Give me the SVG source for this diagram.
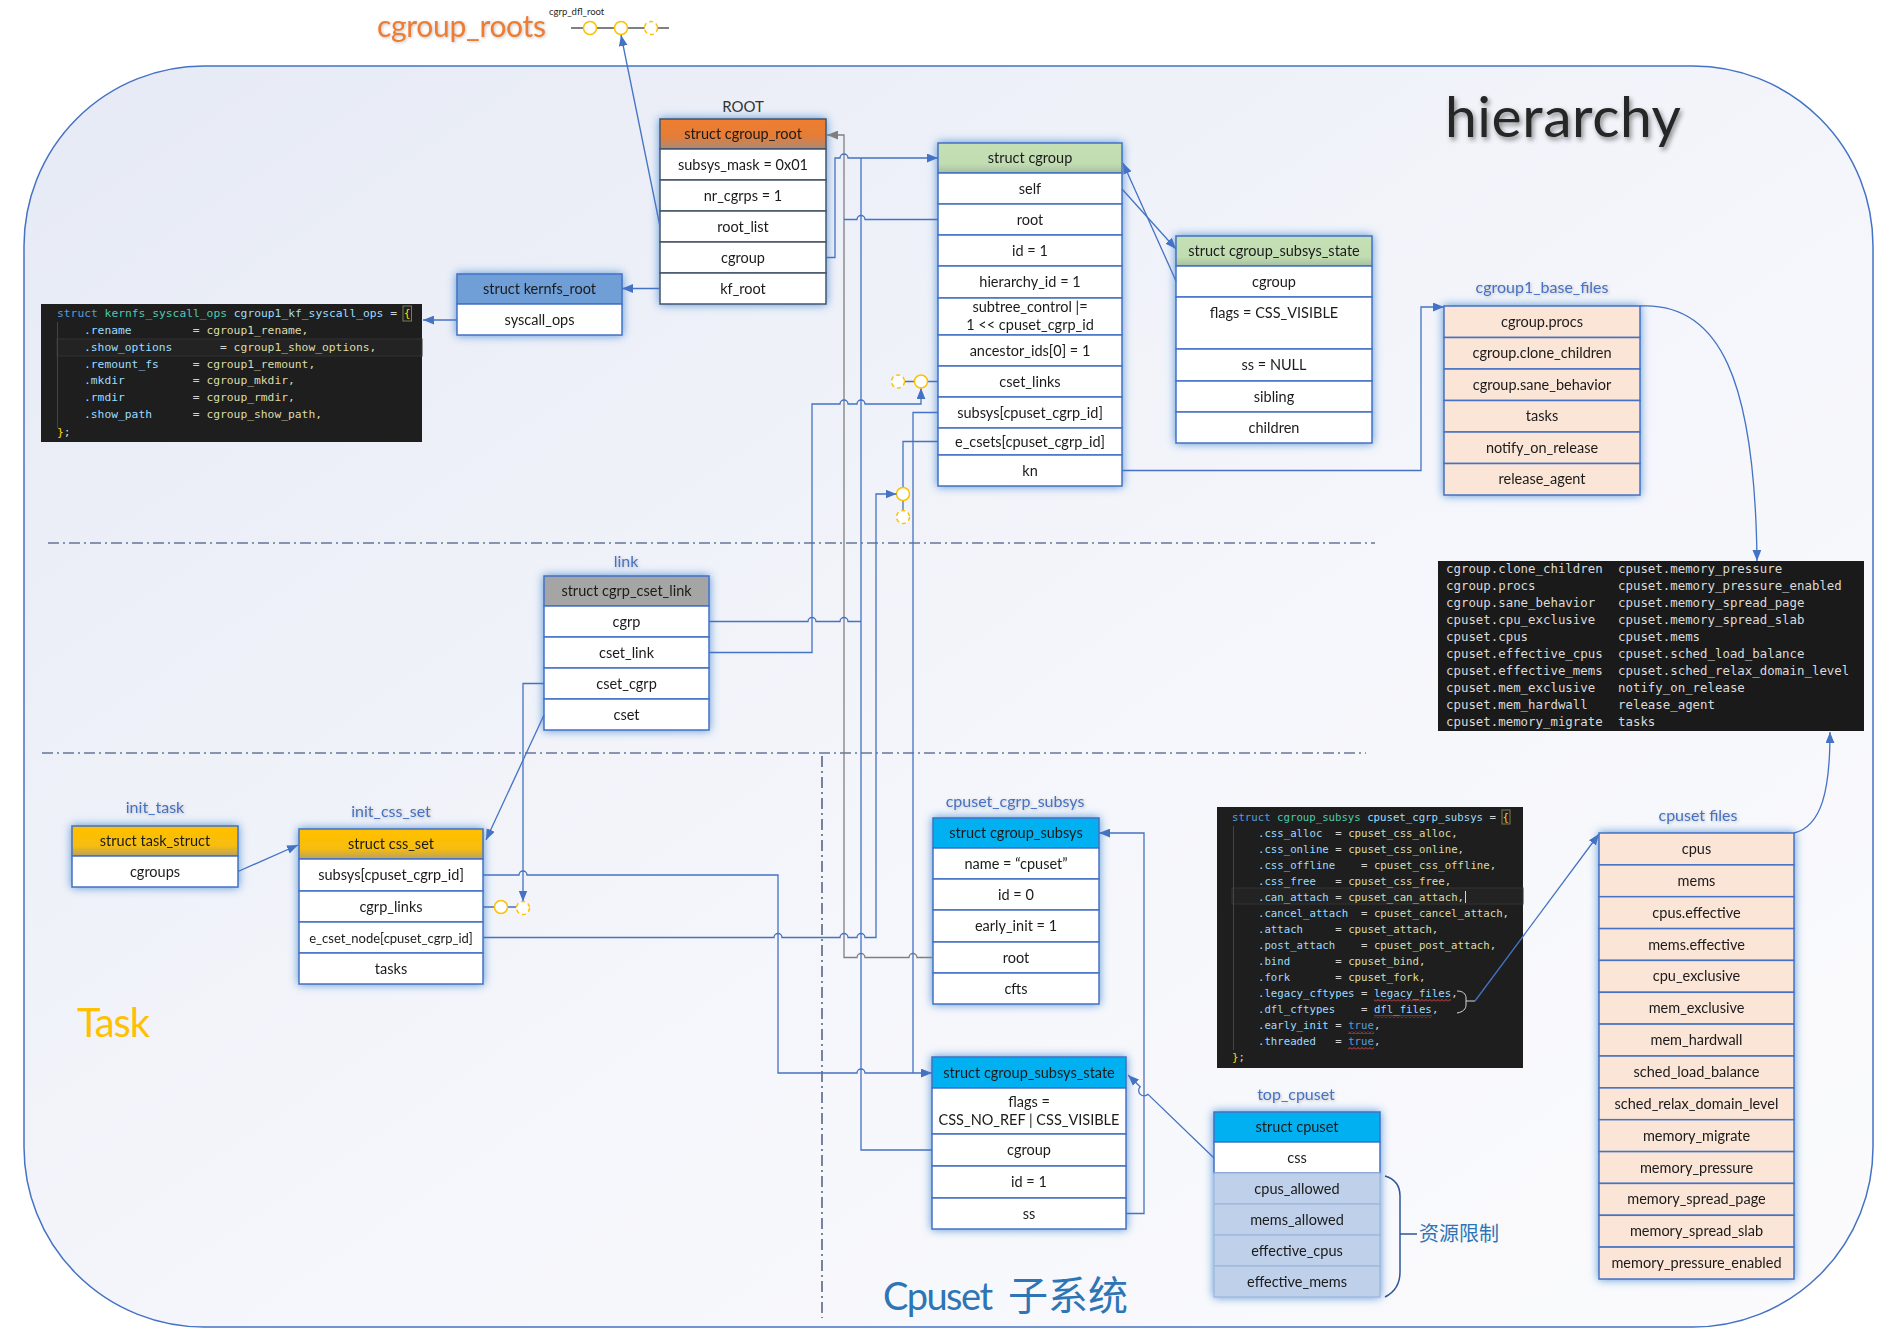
<svg xmlns="http://www.w3.org/2000/svg" width="1896" height="1340" viewBox="0 0 1896 1340">
<style>
.bx{stroke:#4472c4;stroke-width:1.5}
.rw{fill:#fff}
.pc{fill:#fbe5d6}
.lbr{fill:#bfd0ea;stroke:#9db6dc;stroke-width:1.2}
.t{font-family:Lato,"Noto Sans",sans-serif;font-size:14.5px;fill:#1a1a1a;text-anchor:middle}
.l{font-family:Lato,"Noto Sans",sans-serif;font-size:16px;fill:#4472c4;text-anchor:middle}
.c{fill:none;stroke:#4472c4;stroke-width:1.3}
.cg{fill:none;stroke:#7f7f7f;stroke-width:1.3}
.ring{fill:#fff;stroke:#ffc000;stroke-width:1.5}
.dsh{stroke-dasharray:4 3}
.m{font-family:"DejaVu Sans Mono","Liberation Mono",monospace}
.kw{fill:#569cd6}.ty{fill:#4ec9b0}.vr{fill:#9cdcfe}.op{fill:#d4d4d4}.fn{fill:#dcdcaa}.br{fill:#ffd700}
.dd{fill:none;stroke:#203864;stroke-width:1.2;stroke-dasharray:11 4 2 4}
</style>
<defs>
<linearGradient id="bg" x1="0" y1="0" x2="1" y2="1"><stop offset="0" stop-color="#e6eaf5"/><stop offset="0.55" stop-color="#f5f6fb"/><stop offset="1" stop-color="#fbfbfd"/></linearGradient>
<linearGradient id="gO" x1="0" y1="0" x2="0" y2="1"><stop offset="0" stop-color="#ef7e2f"/><stop offset="0.6" stop-color="#e47d38"/><stop offset="1" stop-color="#a98a7a"/></linearGradient>
<linearGradient id="gG" x1="0" y1="0" x2="0" y2="1"><stop offset="0" stop-color="#c5e0b4"/><stop offset="0.7" stop-color="#c1dcb1"/><stop offset="1" stop-color="#a6bfa1"/></linearGradient>
<linearGradient id="gY" x1="0" y1="0" x2="0" y2="1"><stop offset="0" stop-color="#ffc000"/><stop offset="0.65" stop-color="#f8bd0a"/><stop offset="1" stop-color="#b9a163"/></linearGradient>
<pattern id="sq" width="4" height="3" patternUnits="userSpaceOnUse"><path d="M0,2.5 L2,0.5 L4,2.5" fill="none" stroke="#f14c4c" stroke-width="0.9"/></pattern>
<filter id="glow" x="-20%" y="-20%" width="140%" height="140%">
<feGaussianBlur in="SourceAlpha" stdDeviation="5" result="b"/>
<feFlood flood-color="#4f8fd6" flood-opacity="0.95"/>
<feComposite in2="b" operator="in" result="g"/>
<feMerge><feMergeNode in="g"/><feMergeNode in="SourceGraphic"/></feMerge>
</filter>
<filter id="ts" x="-20%" y="-40%" width="140%" height="180%"><feDropShadow dx="1" dy="1" stdDeviation="1.5" flood-color="#777" flood-opacity="0.45"/></filter>
<filter id="big" x="-10%" y="-30%" width="120%" height="160%"><feDropShadow dx="2" dy="3" stdDeviation="2.5" flood-color="#000" flood-opacity="0.45"/></filter>
<marker id="ab" viewBox="0 0 10 8" refX="10" refY="4" markerWidth="11" markerHeight="9" markerUnits="userSpaceOnUse" orient="auto"><path d="M0,0L10,4L0,8z" fill="#4472c4"/></marker>
<marker id="ag" viewBox="0 0 10 8" refX="10" refY="4" markerWidth="11" markerHeight="9" markerUnits="userSpaceOnUse" orient="auto"><path d="M0,0L10,4L0,8z" fill="#7f7f7f"/></marker>
</defs>

<rect width="1896" height="1340" fill="#fff"/>
<rect x="24" y="66" width="1849" height="1261" rx="180" fill="url(#bg)" stroke="#4472c4" stroke-width="1.5"/>

<!-- titles -->
<g id="titles">
<text x="377" y="37" font-family="Lato,'Noto Sans',sans-serif" font-size="30" fill="#ed7d31" textLength="169" filter="url(#ts)">cgroup_roots</text>
<text x="549" y="15" font-family="Lato,'Noto Sans',sans-serif" font-size="9.5" fill="#262626">cgrp_dfl_root</text>
<text x="1445" y="137" font-family="Lato,'Noto Sans',sans-serif" font-size="57" fill="#262626" textLength="236" filter="url(#big)">hierarchy</text>
<text x="77" y="1037" font-family="Lato,'Noto Sans',sans-serif" font-size="40" fill="#ffc000" textLength="73">Task</text>
<text font-family="Lato,'Noto Sans CJK SC',sans-serif" font-size="38" fill="#2e75b6"><tspan x="883" y="1310" textLength="110">Cpuset</tspan><tspan x="1008" y="1310" font-size="40" font-family="'Noto Sans CJK SC',sans-serif">子系统</tspan></text>
<text x="743" y="112" text-anchor="middle" font-family="Lato,'Noto Sans',sans-serif" font-size="15" fill="#333">ROOT</text>
</g>

<!-- section lines -->
<g id="sections">
<path class="dd" d="M48,543 H1375"/>
<path class="dd" d="M42,753 H1366"/>
<path class="dd" d="M822,756 V1318"/>
</g>

<!-- cgroup_roots list -->
<g id="cgroup_roots_list">
<path d="M571,28 H669" stroke="#808080" stroke-width="1.8"/>
<circle class="ring" cx="590" cy="28" r="6.5"/>
<circle class="ring" cx="621" cy="28" r="6.5"/>
<circle class="ring dsh" cx="651" cy="28" r="6.5"/>
</g>

<!-- ROOT cgroup_root -->
<g id="cgroup_root" filter="url(#glow)">
<rect x="660" y="119" width="166" height="30" fill="url(#gO)" stroke="#44546a" stroke-width="1.5"/>
<rect x="660" y="149" width="166" height="31" class="rw" stroke="#44546a" stroke-width="1.5"/>
<rect x="660" y="180" width="166" height="31" class="rw" stroke="#44546a" stroke-width="1.5"/>
<rect x="660" y="211" width="166" height="31" class="rw" stroke="#44546a" stroke-width="1.5"/>
<rect x="660" y="242" width="166" height="31" class="rw" stroke="#44546a" stroke-width="1.5"/>
<rect x="660" y="273" width="166" height="31" class="rw" stroke="#44546a" stroke-width="1.5"/>
<text class="t" x="743" y="139">struct cgroup_root</text>
<text class="t" x="743" y="169.5">subsys_mask = 0x01</text>
<text class="t" x="743" y="200.5">nr_cgrps = 1</text>
<text class="t" x="743" y="231.5">root_list</text>
<text class="t" x="743" y="262.5">cgroup</text>
<text class="t" x="743" y="293.5">kf_root</text>
</g>

<!-- kernfs_root -->
<g id="kernfs_root" filter="url(#glow)">
<rect x="457" y="274" width="165" height="30" fill="#6f9ed6" class="bx"/>
<rect x="457" y="304" width="165" height="31" class="rw bx"/>
<text class="t" x="539.5" y="294">struct kernfs_root</text>
<text class="t" x="539.5" y="324.5">syscall_ops</text>
</g>

<!-- code box kernfs_syscall_ops -->
<g id="kernfs_syscall_ops" class="m" font-size="11.3">
<rect x="41" y="304" width="381" height="138" fill="#1e1e1e"/>
<rect x="57" y="339" width="365" height="17" fill="#232323" stroke="#333" stroke-width="1"/>
<path d="M57.5,322 V428" stroke="#444" stroke-width="1"/>
<rect x="403" y="306" width="8.5" height="15" fill="none" stroke="#7d7a52" stroke-width="1"/>
<text y="317"><tspan x="57" class="kw">struct</tspan><tspan x="104.6" class="ty">kernfs_syscall_ops</tspan><tspan x="233.8" class="vr">cgroup1_kf_syscall_ops</tspan><tspan x="390.2" class="op">=</tspan><tspan x="403.8" class="br">{</tspan></text>
<text y="334"><tspan x="84" class="vr">.rename</tspan><tspan x="192.8" class="op">=</tspan><tspan x="206.4" class="fn">cgroup1_rename,</tspan></text>
<text y="351"><tspan x="84" class="vr">.show_options</tspan><tspan x="220" class="op">=</tspan><tspan x="233.6" class="fn">cgroup1_show_options,</tspan></text>
<text y="368"><tspan x="84" class="vr">.remount_fs</tspan><tspan x="192.8" class="op">=</tspan><tspan x="206.4" class="fn">cgroup1_remount,</tspan></text>
<text y="384"><tspan x="84" class="vr">.mkdir</tspan><tspan x="192.8" class="op">=</tspan><tspan x="206.4" class="fn">cgroup_mkdir,</tspan></text>
<text y="401"><tspan x="84" class="vr">.rmdir</tspan><tspan x="192.8" class="op">=</tspan><tspan x="206.4" class="fn">cgroup_rmdir,</tspan></text>
<text y="418"><tspan x="84" class="vr">.show_path</tspan><tspan x="192.8" class="op">=</tspan><tspan x="206.4" class="fn">cgroup_show_path,</tspan></text>
<text y="436"><tspan x="57" class="br">}</tspan><tspan x="63.8" class="op">;</tspan></text>
</g>

<!-- struct cgroup -->
<g id="cgroup" filter="url(#glow)">
<rect x="938" y="143" width="184" height="30" fill="url(#gG)" class="bx"/>
<rect x="938" y="173" width="184" height="31" class="rw bx"/>
<rect x="938" y="204" width="184" height="31" class="rw bx"/>
<rect x="938" y="235" width="184" height="31" class="rw bx"/>
<rect x="938" y="266" width="184" height="32" class="rw bx"/>
<rect x="938" y="298" width="184" height="37" class="rw bx"/>
<rect x="938" y="335" width="184" height="31" class="rw bx"/>
<rect x="938" y="366" width="184" height="31" class="rw bx"/>
<rect x="938" y="397" width="184" height="31" class="rw bx"/>
<rect x="938" y="428" width="184" height="27" class="rw bx"/>
<rect x="938" y="455" width="184" height="31" class="rw bx"/>
<text class="t" x="1030" y="163">struct cgroup</text>
<text class="t" x="1030" y="193.5">self</text>
<text class="t" x="1030" y="224.5">root</text>
<text class="t" x="1030" y="255.5">id = 1</text>
<text class="t" x="1030" y="287">hierarchy_id = 1</text>
<text class="t" x="1030" y="312">subtree_control |=</text>
<text class="t" x="1030" y="330">1 &lt;&lt; cpuset_cgrp_id</text>
<text class="t" x="1030" y="355.5">ancestor_ids[0] = 1</text>
<text class="t" x="1030" y="386.5">cset_links</text>
<text class="t" x="1030" y="417.5">subsys[cpuset_cgrp_id]</text>
<text class="t" x="1030" y="446.5">e_csets[cpuset_cgrp_id]</text>
<text class="t" x="1030" y="475.5">kn</text>
</g>

<!-- cgroup_subsys_state (root) -->
<g id="root_css" filter="url(#glow)">
<rect x="1176" y="236" width="196" height="30" fill="url(#gG)" class="bx"/>
<rect x="1176" y="266" width="196" height="31" class="rw bx"/>
<rect x="1176" y="297" width="196" height="52" class="rw bx"/>
<rect x="1176" y="349" width="196" height="32" class="rw bx"/>
<rect x="1176" y="381" width="196" height="31" class="rw bx"/>
<rect x="1176" y="412" width="196" height="31" class="rw bx"/>
<text class="t" x="1274" y="256">struct cgroup_subsys_state</text>
<text class="t" x="1274" y="286.5">cgroup</text>
<text class="t" x="1274" y="318">flags = CSS_VISIBLE</text>
<text class="t" x="1274" y="370">ss = NULL</text>
<text class="t" x="1274" y="401.5">sibling</text>
<text class="t" x="1274" y="432.5">children</text>
</g>

<!-- cgroup1_base_files -->
<g id="cgroup1_base_files">
<text class="l" x="1542" y="293" filter="url(#ts)">cgroup1_base_files</text>
<g filter="url(#glow)">
<rect x="1444" y="306" width="196" height="31.5" class="pc bx"/>
<rect x="1444" y="337.5" width="196" height="31.5" class="pc bx"/>
<rect x="1444" y="369" width="196" height="31.5" class="pc bx"/>
<rect x="1444" y="400.5" width="196" height="31.5" class="pc bx"/>
<rect x="1444" y="432" width="196" height="31.5" class="pc bx"/>
<rect x="1444" y="463.5" width="196" height="31.5" class="pc bx"/>
<text class="t" x="1542" y="326.8">cgroup.procs</text>
<text class="t" x="1542" y="358.3">cgroup.clone_children</text>
<text class="t" x="1542" y="389.8">cgroup.sane_behavior</text>
<text class="t" x="1542" y="421.3">tasks</text>
<text class="t" x="1542" y="452.8">notify_on_release</text>
<text class="t" x="1542" y="484.3">release_agent</text>
</g>
</g>

<!-- files listing -->
<g id="cpuset_dir_listing" class="m" font-size="12.4" fill="#dadada">
<rect x="1438" y="561" width="426" height="170" fill="#1a1a1a"/>
<text x="1446" y="573">cgroup.clone_children</text><text x="1618" y="573">cpuset.memory_pressure</text>
<text x="1446" y="590">cgroup.procs</text><text x="1618" y="590">cpuset.memory_pressure_enabled</text>
<text x="1446" y="607">cgroup.sane_behavior</text><text x="1618" y="607">cpuset.memory_spread_page</text>
<text x="1446" y="624">cpuset.cpu_exclusive</text><text x="1618" y="624">cpuset.memory_spread_slab</text>
<text x="1446" y="641">cpuset.cpus</text><text x="1618" y="641">cpuset.mems</text>
<text x="1446" y="658">cpuset.effective_cpus</text><text x="1618" y="658">cpuset.sched_load_balance</text>
<text x="1446" y="675">cpuset.effective_mems</text><text x="1618" y="675">cpuset.sched_relax_domain_level</text>
<text x="1446" y="692">cpuset.mem_exclusive</text><text x="1618" y="692">notify_on_release</text>
<text x="1446" y="709">cpuset.mem_hardwall</text><text x="1618" y="709">release_agent</text>
<text x="1446" y="726">cpuset.memory_migrate</text><text x="1618" y="726">tasks</text>
</g>

<!-- link -->
<g id="cgrp_cset_link">
<text class="l" x="626" y="567" filter="url(#ts)">link</text>
<g filter="url(#glow)">
<rect x="544" y="576" width="165" height="30" fill="#a5a5a5" class="bx"/>
<rect x="544" y="606" width="165" height="31" class="rw bx"/>
<rect x="544" y="637" width="165" height="31" class="rw bx"/>
<rect x="544" y="668" width="165" height="31" class="rw bx"/>
<rect x="544" y="699" width="165" height="31" class="rw bx"/>
<text class="t" x="626.5" y="596">struct cgrp_cset_link</text>
<text class="t" x="626.5" y="626.5">cgrp</text>
<text class="t" x="626.5" y="657.5">cset_link</text>
<text class="t" x="626.5" y="688.5">cset_cgrp</text>
<text class="t" x="626.5" y="719.5">cset</text>
</g>
</g>

<!-- init_task -->
<g id="init_task">
<text class="l" x="155" y="813" filter="url(#ts)">init_task</text>
<g filter="url(#glow)">
<rect x="72" y="826" width="166" height="30" fill="url(#gY)" class="bx"/>
<rect x="72" y="856" width="166" height="31" class="rw bx"/>
<text class="t" x="155" y="846">struct task_struct</text>
<text class="t" x="155" y="876.5">cgroups</text>
</g>
</g>

<!-- init_css_set -->
<g id="init_css_set">
<text class="l" x="391" y="817" filter="url(#ts)">init_css_set</text>
<g filter="url(#glow)">
<rect x="299" y="829" width="184" height="30" fill="url(#gY)" class="bx"/>
<rect x="299" y="859" width="184" height="32" class="rw bx"/>
<rect x="299" y="891" width="184" height="31" class="rw bx"/>
<rect x="299" y="922" width="184" height="31" class="rw bx"/>
<rect x="299" y="953" width="184" height="31" class="rw bx"/>
<text class="t" x="391" y="849">struct css_set</text>
<text class="t" x="391" y="880">subsys[cpuset_cgrp_id]</text>
<text class="t" x="391" y="911.5">cgrp_links</text>
<text class="t" x="391" y="942.5" style="font-size:13px">e_cset_node[cpuset_cgrp_id]</text>
<text class="t" x="391" y="973.5">tasks</text>
</g>
</g>

<!-- cpuset_cgrp_subsys -->
<g id="cpuset_cgrp_subsys">
<text class="l" x="1015" y="807" filter="url(#ts)">cpuset_cgrp_subsys</text>
<g filter="url(#glow)">
<rect x="933" y="818" width="166" height="30" fill="#00b0f0" class="bx"/>
<rect x="933" y="848" width="166" height="31" class="rw bx"/>
<rect x="933" y="879" width="166" height="31" class="rw bx"/>
<rect x="933" y="910" width="166" height="32" class="rw bx"/>
<rect x="933" y="942" width="166" height="31" class="rw bx"/>
<rect x="933" y="973" width="166" height="31" class="rw bx"/>
<text class="t" x="1016" y="838">struct cgroup_subsys</text>
<text class="t" x="1016" y="868.5">name =  “cpuset”</text>
<text class="t" x="1016" y="899.5">id = 0</text>
<text class="t" x="1016" y="931">early_init = 1</text>
<text class="t" x="1016" y="962.5">root</text>
<text class="t" x="1016" y="993.5">cfts</text>
</g>
</g>

<!-- cgroup_subsys_state cpuset -->
<g id="cpuset_css" filter="url(#glow)">
<rect x="932" y="1057" width="194" height="31" fill="#00b0f0" class="bx"/>
<rect x="932" y="1088" width="194" height="46" class="rw bx"/>
<rect x="932" y="1134" width="194" height="32" class="rw bx"/>
<rect x="932" y="1166" width="194" height="32" class="rw bx"/>
<rect x="932" y="1198" width="194" height="31" class="rw bx"/>
<text class="t" x="1029" y="1077.5">struct cgroup_subsys_state</text>
<text class="t" x="1029" y="1107">flags =</text>
<text class="t" x="1029" y="1125">CSS_NO_REF | CSS_VISIBLE</text>
<text class="t" x="1029" y="1155">cgroup</text>
<text class="t" x="1029" y="1187">id = 1</text>
<text class="t" x="1029" y="1218.5">ss</text>
</g>

<!-- top_cpuset -->
<g id="top_cpuset">
<text class="l" x="1296" y="1100" filter="url(#ts)">top_cpuset</text>
<g filter="url(#glow)">
<rect x="1214" y="1112" width="166" height="30" fill="#00b0f0" class="bx"/>
<rect x="1214" y="1142" width="166" height="31" class="rw bx"/>
<rect x="1214" y="1173" width="166" height="31" class="lbr"/>
<rect x="1214" y="1204" width="166" height="31" class="lbr"/>
<rect x="1214" y="1235" width="166" height="31" class="lbr"/>
<rect x="1214" y="1266" width="166" height="31" class="lbr"/>
<text class="t" x="1297" y="1132">struct cpuset</text>
<text class="t" x="1297" y="1162.5">css</text>
<text class="t" x="1297" y="1193.5">cpus_allowed</text>
<text class="t" x="1297" y="1224.5">mems_allowed</text>
<text class="t" x="1297" y="1255.5">effective_cpus</text>
<text class="t" x="1297" y="1286.5">effective_mems</text>
</g>
<path d="M1385,1176 C1395,1179 1400,1186 1400,1196 V1272 C1400,1284 1395,1292 1385,1297 M1400,1234 H1417" fill="none" stroke="#2f5597" stroke-width="1.5"/>
<text x="1419" y="1241" font-family="'Noto Sans CJK SC',sans-serif" font-size="20" fill="#2e75b6">资源限制</text>
</g>

<!-- code box cpuset_cgrp_subsys -->
<g id="cpuset_cgrp_subsys_code" class="m" font-size="10.7">
<rect x="1217" y="807" width="306" height="261" fill="#1e1e1e"/>
<rect x="1232" y="888" width="291" height="16" fill="#232323" stroke="#333" stroke-width="1"/>
<path d="M1233.5,826 V1050" stroke="#444" stroke-width="1"/>
<rect x="1502" y="810" width="8" height="14" fill="none" stroke="#7d7a52" stroke-width="1"/>
<text y="821"><tspan x="1232" class="kw">struct</tspan><tspan x="1277.1" class="ty">cgroup_subsys</tspan><tspan x="1367.2" class="vr">cpuset_cgrp_subsys</tspan><tspan x="1489.6" class="op">=</tspan><tspan x="1502.5" class="br">{</tspan></text>
<text y="837"><tspan x="1258" class="vr">.css_alloc</tspan><tspan x="1335.3" class="op">=</tspan><tspan x="1348.2" class="fn">cpuset_css_alloc,</tspan></text>
<text y="853"><tspan x="1258" class="vr">.css_online</tspan><tspan x="1335.3" class="op">=</tspan><tspan x="1348.2" class="fn">cpuset_css_online,</tspan></text>
<text y="869"><tspan x="1258" class="vr">.css_offline</tspan><tspan x="1361" class="op">=</tspan><tspan x="1373.9" class="fn">cpuset_css_offline,</tspan></text>
<text y="885"><tspan x="1258" class="vr">.css_free</tspan><tspan x="1335.3" class="op">=</tspan><tspan x="1348.2" class="fn">cpuset_css_free,</tspan></text>
<text y="901"><tspan x="1258" class="vr">.can_attach</tspan><tspan x="1335.3" class="op">=</tspan><tspan x="1348.2" class="fn">cpuset_can_attach,</tspan></text>
<path d="M1465.5,891 V903" stroke="#d4d4d4" stroke-width="1"/>
<text y="917"><tspan x="1258" class="vr">.cancel_attach</tspan><tspan x="1361" class="op">=</tspan><tspan x="1373.9" class="fn">cpuset_cancel_attach,</tspan></text>
<text y="933"><tspan x="1258" class="vr">.attach</tspan><tspan x="1335.3" class="op">=</tspan><tspan x="1348.2" class="fn">cpuset_attach,</tspan></text>
<text y="949"><tspan x="1258" class="vr">.post_attach</tspan><tspan x="1361" class="op">=</tspan><tspan x="1373.9" class="fn">cpuset_post_attach,</tspan></text>
<text y="965"><tspan x="1258" class="vr">.bind</tspan><tspan x="1335.3" class="op">=</tspan><tspan x="1348.2" class="fn">cpuset_bind,</tspan></text>
<text y="981"><tspan x="1258" class="vr">.fork</tspan><tspan x="1335.3" class="op">=</tspan><tspan x="1348.2" class="fn">cpuset_fork,</tspan></text>
<text y="997"><tspan x="1258" class="vr">.legacy_cftypes</tspan><tspan x="1361" class="op">=</tspan><tspan x="1373.9" class="vr">legacy_files</tspan><tspan x="1451.2" class="op">,</tspan></text>
<text y="1013"><tspan x="1258" class="vr">.dfl_cftypes</tspan><tspan x="1361" class="op">=</tspan><tspan x="1373.9" class="vr">dfl_files</tspan><tspan x="1431.9" class="op">,</tspan></text>
<text y="1029"><tspan x="1258" class="vr">.early_init</tspan><tspan x="1335.3" class="op">=</tspan><tspan x="1348.2" class="kw">true</tspan><tspan x="1374" class="op">,</tspan></text>
<text y="1045"><tspan x="1258" class="vr">.threaded</tspan><tspan x="1335.3" class="op">=</tspan><tspan x="1348.2" class="kw">true</tspan><tspan x="1374" class="op">,</tspan></text>
<text y="1061"><tspan x="1232" class="br">}</tspan><tspan x="1238.4" class="op">;</tspan></text>
<rect x="1374" y="999" width="77" height="3" fill="url(#sq)"/>
<rect x="1374" y="1015" width="58" height="3" fill="url(#sq)"/>
<rect x="1348" y="1031" width="26" height="3" fill="url(#sq)"/>
<rect x="1348" y="1047" width="26" height="3" fill="url(#sq)"/>
<path d="M1457,991 C1463,991 1466,994 1466,998 V1001 H1475 M1466,1001 V1005 C1466,1009 1463,1012 1457,1013" fill="none" stroke="#d4d4d4" stroke-width="1"/>
</g>

<!-- cpuset files -->
<g id="cpuset_files">
<text class="l" x="1698" y="821" filter="url(#ts)">cpuset files</text>
<g filter="url(#glow)">
<rect x="1599" y="833" width="195" height="31.9" class="pc bx"/>
<rect x="1599" y="864.9" width="195" height="31.8" class="pc bx"/>
<rect x="1599" y="896.7" width="195" height="31.9" class="pc bx"/>
<rect x="1599" y="928.6" width="195" height="31.8" class="pc bx"/>
<rect x="1599" y="960.4" width="195" height="31.9" class="pc bx"/>
<rect x="1599" y="992.3" width="195" height="31.8" class="pc bx"/>
<rect x="1599" y="1024.1" width="195" height="31.9" class="pc bx"/>
<rect x="1599" y="1056" width="195" height="31.9" class="pc bx"/>
<rect x="1599" y="1087.9" width="195" height="31.8" class="pc bx"/>
<rect x="1599" y="1119.7" width="195" height="31.9" class="pc bx"/>
<rect x="1599" y="1151.6" width="195" height="31.8" class="pc bx"/>
<rect x="1599" y="1183.4" width="195" height="31.9" class="pc bx"/>
<rect x="1599" y="1215.3" width="195" height="31.8" class="pc bx"/>
<rect x="1599" y="1247.1" width="195" height="31.9" class="pc bx"/>
<text class="t" x="1696.5" y="853.9">cpus</text>
<text class="t" x="1696.5" y="885.8">mems</text>
<text class="t" x="1696.5" y="917.6">cpus.effective</text>
<text class="t" x="1696.5" y="949.5">mems.effective</text>
<text class="t" x="1696.5" y="981.3">cpu_exclusive</text>
<text class="t" x="1696.5" y="1013.2">mem_exclusive</text>
<text class="t" x="1696.5" y="1045">mem_hardwall</text>
<text class="t" x="1696.5" y="1076.9">sched_load_balance</text>
<text class="t" x="1696.5" y="1108.8">sched_relax_domain_level</text>
<text class="t" x="1696.5" y="1140.6">memory_migrate</text>
<text class="t" x="1696.5" y="1172.5">memory_pressure</text>
<text class="t" x="1696.5" y="1204.3">memory_spread_page</text>
<text class="t" x="1696.5" y="1236.2">memory_spread_slab</text>
<text class="t" x="1696.5" y="1268">memory_pressure_enabled</text>
</g>
</g>

<!-- connectors -->
<g id="connectors">
<path class="cg" d="M933,957.5 H917 a4,4 0 0 0 -8,0 H865 a4,4 0 0 0 -8,0 H844 V135 H827" marker-end="url(#ag)"/>
<path class="c" d="M826,257.5 H835 V158 H840 a4,4 0 0 1 8,0 H938" marker-end="url(#ab)"/>
<path class="c" d="M932,1150 H861 V158"/>
<path class="c" d="M938,219.5 H865 a4,4 0 0 0 -8,0 H844"/>
<path class="c" d="M709,652.5 H812 V404 H840 a4,4 0 0 1 8,0 H857 a4,4 0 0 1 8,0 H921 V388" marker-end="url(#ab)"/>
<path class="c" d="M709,621.5 H808 a4,4 0 0 1 8,0 H840 a4,4 0 0 1 8,0 H861"/>
<path class="c" d="M938,412.5 H913 V1073"/>
<path class="c" d="M483,875 H519 a4,4 0 0 1 8,0 H778 V1073 H857 a4,4 0 0 1 8,0 H932" marker-end="url(#ab)"/>
<path class="c" stroke-width="1.8" d="M938,441.5 H903 V487.5"/>
<path class="c" d="M903,500.5 V510.5"/>
<circle class="ring" cx="903" cy="494" r="6.5"/>
<circle class="ring dsh" cx="903" cy="517" r="6.5"/>
<path class="c" d="M483,937.5 H774 a4,4 0 0 1 8,0 H840 a4,4 0 0 1 8,0 H857 a4,4 0 0 1 8,0 H876 V494 H896.5" marker-end="url(#ab)"/>
<path class="c" d="M544,683.5 H523 V901.5" marker-end="url(#ab)"/>
<path class="c" d="M483,907 H494.5 M507.5,907 H516.5"/>
<circle class="ring" cx="501" cy="907" r="6.5"/>
<circle class="ring dsh" cx="523" cy="908" r="6.5"/>
<path class="c" d="M544,715 L486,840" marker-end="url(#ab)"/>
<path class="c" d="M238,871.5 L298,845" marker-end="url(#ab)"/>
<path class="c" d="M938,381.5 H927.5 M914.5,381.5 H904.5"/>
<circle class="ring" cx="921" cy="381.5" r="6.5"/>
<circle class="ring dsh" cx="898" cy="381.5" r="6.5"/>
<path class="c" d="M1122,470.5 H1421 V307 H1444" marker-end="url(#ab)"/>
<path class="c" d="M1122,189 L1176,249" marker-end="url(#ab)"/>
<path class="c" d="M1176,281 L1123,163" marker-end="url(#ab)"/>
<path class="c" d="M660,226.5 L621,35" marker-end="url(#ab)"/>
<path class="c" d="M660,288.5 H622" marker-end="url(#ab)"/>
<path class="c" d="M457,320 H423" marker-end="url(#ab)"/>
<path class="c" d="M1126,1213.5 H1144 V833 H1099" marker-end="url(#ab)"/>
<path class="c" d="M1214,1158 L1148,1094.3 A4,4 0 0 1 1140.2,1086.7 L1128,1075" marker-end="url(#ab)"/>
<path class="c" d="M1475,1001 L1599,834" marker-end="url(#ab)"/>
<path class="c" d="M1794,833 C1822,826 1830,790 1830,732" marker-end="url(#ab)"/>
<path class="c" d="M1640,306 C1720,302 1755,380 1757,561" marker-end="url(#ab)"/>
</g>
</svg>
